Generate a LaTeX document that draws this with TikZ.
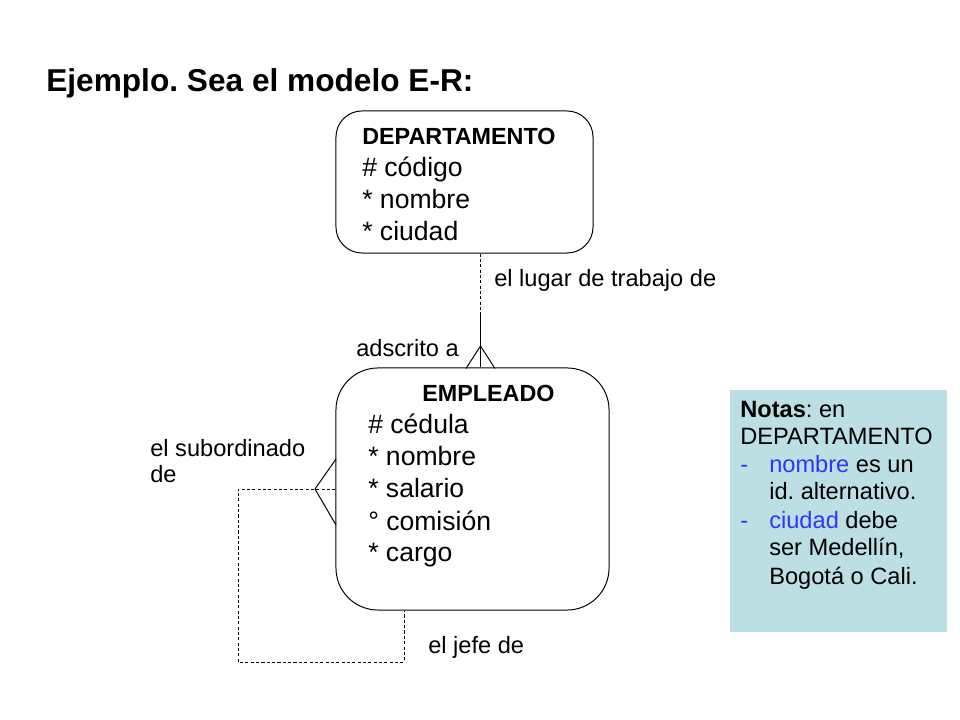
\documentclass[tikz,border=0pt]{standalone}
\usepackage{fontspec}
\setmainfont{Liberation Sans}
\usepackage{xcolor}
\frenchspacing
\definecolor{notafondo}{RGB}{187,223,226}
\definecolor{notaazul}{RGB}{51,51,255}
\tikzset{
  entidad/.style={draw, rounded corners=0.65cm, inner sep=0pt, line width=0.7pt},
  txt/.style={anchor=base west, inner sep=0pt},
  titulo/.style={txt, font=\fontsize{22.5}{27}\selectfont\bfseries},
  nombreent/.style={txt, font=\fontsize{16.6}{20}\selectfont\bfseries},
  atrib/.style={txt, font=\fontsize{18.9}{23}\selectfont},
  rol/.style={txt, font=\fontsize{16.8}{20}\selectfont},
  opcional/.style={line width=0.7pt, dash pattern=on 2.2pt off 1.6pt},
}
\begin{document}
\begin{tikzpicture}[x=0.025cm,y=-0.025cm]
\useasboundingbox (0,0) rectangle (960,720);
\node[titulo] (tit) at (46,91.7) {Ejemplo. Sea el modelo E-R:};
% entidades
\node[entidad, minimum width=6.425cm, minimum height=3.55cm] (dep) at (464.5,182) {};
\node[entidad, rounded corners=1.05cm, minimum width=6.825cm, minimum height=6.05cm] (emp) at (472.5,489) {};
\node[nombreent] (depnom) at (362,145) {DEPARTAMENTO};
\node[atrib] (dep1) at (362,177) {\# código};
\node[atrib] (dep2) at (362,209) {* nombre};
\node[atrib] (dep3) at (362,241) {* ciudad};
\node[nombreent] (empnom) at (422,402) {EMPLEADO};
\node[atrib] (emp1) at (368,434) {\# cédula};
\node[atrib] (emp2) at (368,466) {* nombre};
\node[atrib] (emp3) at (368,498) {* salario};
\node[atrib] (emp4) at (368,530) {° comisión};
\node[atrib] (emp5) at (368,561) {* cargo};
% relacion DEPARTAMENTO - EMPLEADO
\coordinate (r1) at (480.5,312);
\coordinate (pata1) at (480.5,346);
\draw[opcional] (dep.south -| r1) -- (r1);
\draw[line width=0.7pt] (r1) -- (r1 |- emp.north);
\draw[line width=0.7pt] (pata1) -- ++(-14.5,22.5);
\draw[line width=0.7pt] (pata1) -- ++(14.5,22.5);
\node[rol] (lugar) at (494,287) {el lugar de trabajo de};
\node[rol] (adscr) at (356,357) {adscrito a};
% relacion recursiva
\coordinate (pata2) at (315,489);
\coordinate (esq1) at (238,489);
\coordinate (esq2) at (238,662);
\coordinate (esq3) at (404,662);
\draw[opcional] (emp.west) -- (esq1) -- (esq2) -- (esq3) -- (esq3 |- emp.south);
\draw[line width=0.7pt] (pata2) -- ++(21,-30);
\draw[line width=0.7pt] (pata2) -- ++(21,36);
\node[rol] (subor) at (150,457) {el subordinado};
\node[rol] (subor2) at (150,483) {de};
\node[rol] (jefe) at (428,653) {el jefe de};
% notas
\node[fill=notafondo, inner sep=0pt, minimum width=5.425cm, minimum height=6.05cm] (notas) at (838.5,511) {};
\node[rol] (n1) at (740,418) {\textbf{Notas}: en};
\node[rol] (n2) at (740,445) {DEPARTAMENTO};
\node[rol, text=notaazul] (n3a) at (740,473) {-};
\node[rol] (n3) at (769,473) {\textcolor{notaazul}{nombre} es un};
\node[rol] (n4) at (769,500) {id. alternativo.};
\node[rol, text=notaazul] (n5a) at (740,528) {-};
\node[rol] (n5) at (769,528) {\textcolor{notaazul}{ciudad} debe};
\node[rol] (n6) at (769,556) {ser Medellín,};
\node[rol] (n7) at (769,584) {Bogotá o Cali.};
\end{tikzpicture}
\end{document}
